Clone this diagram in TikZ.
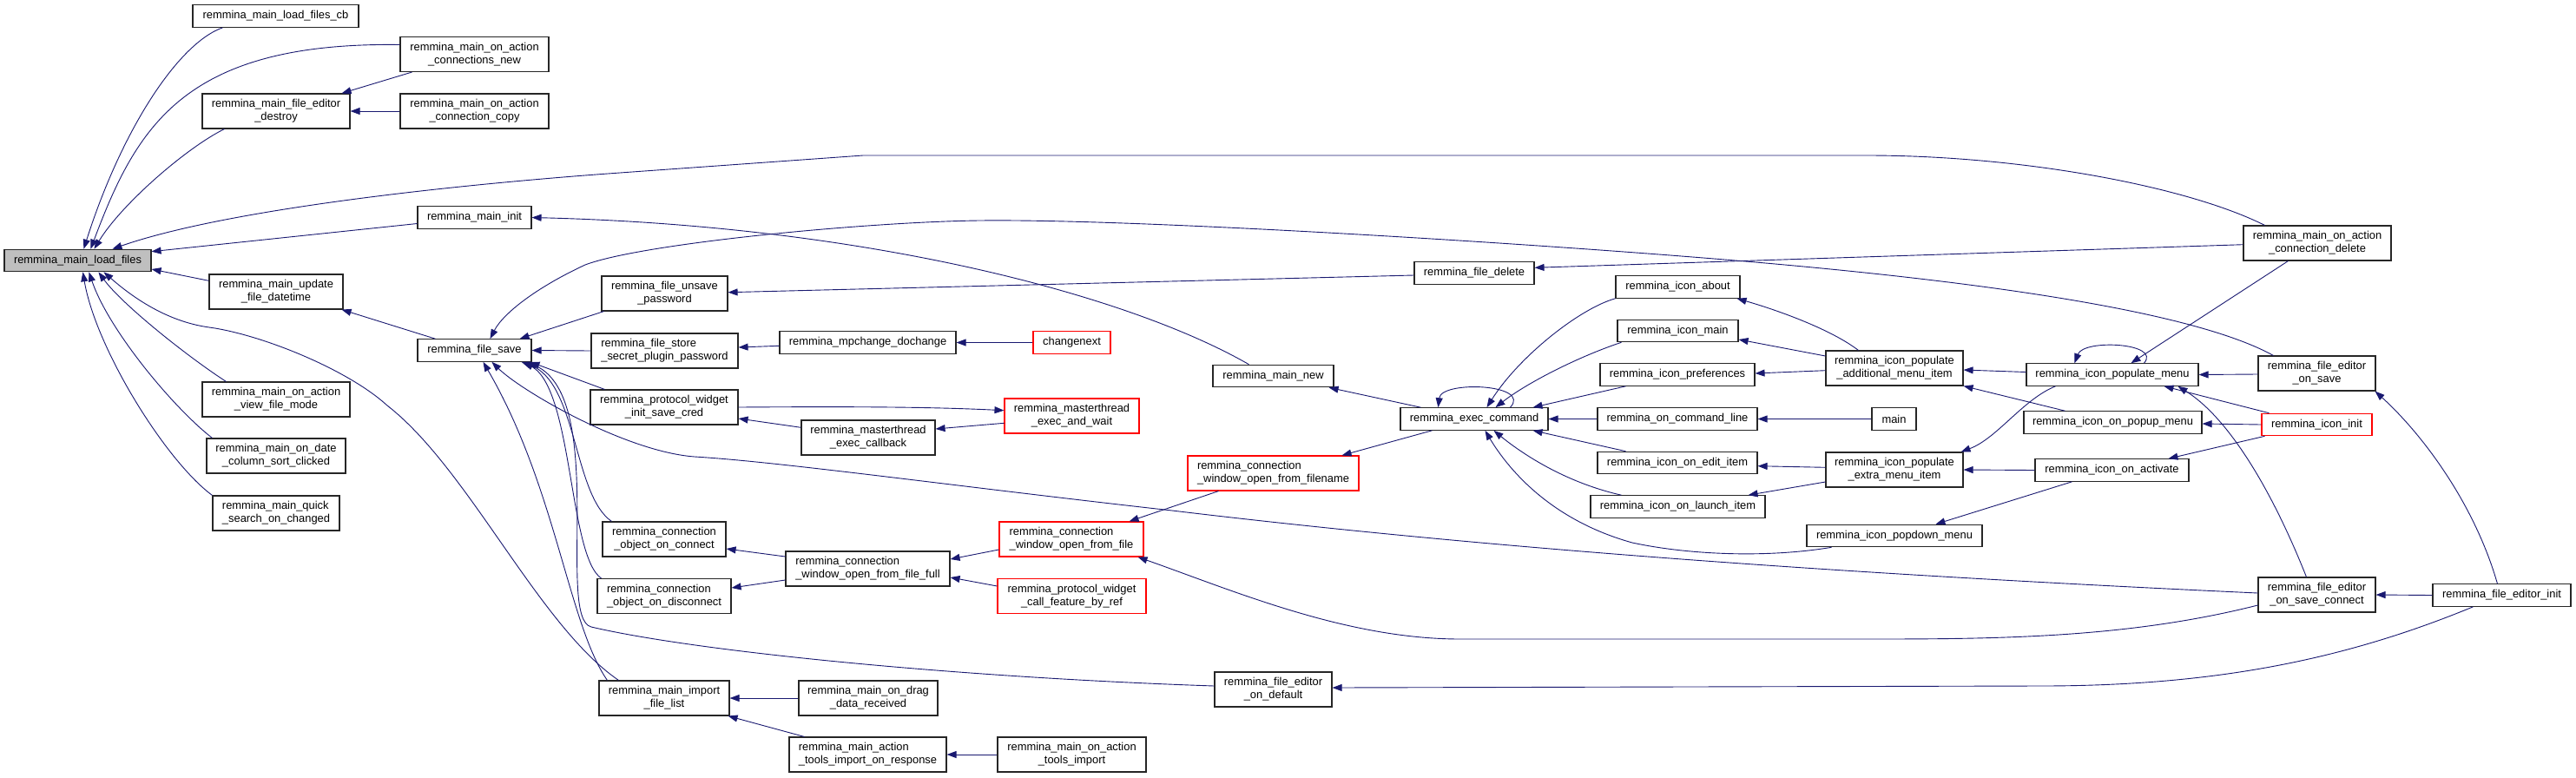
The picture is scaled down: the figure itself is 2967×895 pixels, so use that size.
\documentclass[tikz,border=0pt]{standalone}
\usepackage{fontspec}
\setmainfont{Liberation Sans}
\usetikzlibrary{arrows.meta}
\definecolor{ecol}{HTML}{191970}
\definecolor{rootfill}{HTML}{BFBFBF}
\newlength\dlw
\newlength\dlv
\newcommand{\dl}[2]{\settowidth{\dlw}{#2}\settowidth{\dlv}{#1}\ifdim\dlv<\dlw\makebox[\dlw][l]{#1}\else #1\fi\\#2}
\tikzset{
 box/.style={draw=black!85, line width=1.1pt, fill=white, inner sep=0pt, minimum height=25.5pt, align=center, font=\fontsize{12.9}{15}\selectfont},
 two/.style={minimum height=40pt},
 redbox/.style={draw=red},
 cedge/.style={draw=ecol, line width=0.9pt, -{Triangle[length=11pt,width=8pt]}},
}
\begin{document}
\begin{tikzpicture}[x=1pt,y=-1pt]
\useasboundingbox (0,0) rectangle (2967,895);
% nodes
\node[box,fill=rootfill,minimum width=169pt] (lf) at (89.5,300) {remmina\_main\_load\_files};
\node[box,minimum width=191pt] (cb) at (317.5,18.5) {remmina\_main\_load\_files\_cb};
\node[box,two,minimum width=171pt] (cn) at (546.5,62.5) {\dl{remmina\_main\_on\_action}{\_connections\_new}};
\node[box,two,minimum width=170pt] (fd) at (318,128) {\dl{remmina\_main\_file\_editor}{\_destroy}};
\node[box,two,minimum width=171pt] (cc) at (546.5,128) {\dl{remmina\_main\_on\_action}{\_connection\_copy}};
\node[box,minimum width=131pt] (mi) at (546.5,250.5) {remmina\_main\_init};
\node[box,two,minimum width=154pt] (ud) at (318,336) {\dl{remmina\_main\_update}{\_file\_datetime}};
\node[box,minimum width=131pt] (fs) at (546.5,403.5) {remmina\_file\_save};
\node[box,two,minimum width=170pt] (vf) at (318,460) {\dl{remmina\_main\_on\_action}{\_view\_file\_mode}};
\node[box,two,minimum width=160pt] (dc) at (318,525) {\dl{remmina\_main\_on\_date}{\_column\_sort\_clicked}};
\node[box,two,minimum width=146pt] (qs) at (318,591) {\dl{remmina\_main\_quick}{\_search\_on\_changed}};
\node[box,two,minimum width=145pt] (uf) at (765.5,338) {\dl{remmina\_file\_unsave}{\_password}};
\node[box,two,minimum width=169pt] (fss) at (765.5,404) {\dl{remmina\_file\_store}{\_secret\_plugin\_password}};
\node[box,minimum width=203pt] (mp) at (999.5,394.5) {remmina\_mpchange\_dochange};
\node[box,redbox,minimum width=89pt] (cx) at (1234.5,394.5) {changenext};
\node[box,two,minimum width=170pt] (isc) at (765,469) {\dl{remmina\_protocol\_widget}{\_init\_save\_cred}};
\node[box,two,minimum width=154pt] (ec) at (1000,504) {\dl{remmina\_masterthread}{\_exec\_callback}};
\node[box,two,redbox,minimum width=155pt] (eaw) at (1234.5,479) {\dl{remmina\_masterthread}{\_exec\_and\_wait}};
\node[box,two,minimum width=142pt] (oc) at (765,621) {\dl{remmina\_connection}{\_object\_on\_connect}};
\node[box,two,minimum width=154pt] (od) at (765,686.5) {\dl{remmina\_connection}{\_object\_on\_disconnect}};
\node[box,two,minimum width=189pt] (ff) at (999.5,655) {\dl{remmina\_connection}{\_window\_open\_from\_file\_full}};
\node[box,two,redbox,minimum width=166pt] (ofs) at (1234,621) {\dl{remmina\_connection}{\_window\_open\_from\_file}};
\node[box,two,redbox,minimum width=171pt] (cfr) at (1234.5,686.5) {\dl{remmina\_protocol\_widget}{\_call\_feature\_by\_ref}};
\node[box,two,minimum width=150pt] (ifl) at (765,804) {\dl{remmina\_main\_import}{\_file\_list}};
\node[box,two,minimum width=160pt] (dd) at (1000,804) {\dl{remmina\_main\_on\_drag}{\_data\_received}};
\node[box,two,minimum width=181pt] (rsp) at (999.5,869) {\dl{remmina\_main\_action}{\_tools\_import\_on\_response}};
\node[box,two,minimum width=171pt] (ti) at (1234.5,869) {\dl{remmina\_main\_on\_action}{\_tools\_import}};
\node[box,minimum width=138pt] (fdl) at (1698,314.5) {remmina\_file\_delete};
\node[box,minimum width=139pt] (mn) at (1466.5,433) {remmina\_main\_new};
\node[box,minimum width=170pt] (ex) at (1698,482.5) {remmina\_exec\_command};
\node[box,two,redbox,minimum width=197pt] (ofn) at (1466.5,545) {\dl{remmina\_connection}{\_window\_open\_from\_filename}};
\node[box,two,minimum width=135pt] (fdd) at (1466.5,794) {\dl{remmina\_file\_editor}{\_on\_default}};
\node[box,minimum width=143pt] (ia) at (1932.5,330.5) {remmina\_icon\_about};
\node[box,minimum width=139pt] (im) at (1932.5,381) {remmina\_icon\_main};
\node[box,minimum width=178pt] (ipr) at (1932,431.5) {remmina\_icon\_preferences};
\node[box,minimum width=184pt] (ocl) at (1932,482.5) {remmina\_on\_command\_line};
\node[box,minimum width=184pt] (oe) at (1932,533) {remmina\_icon\_on\_edit\_item};
\node[box,minimum width=201pt] (ol) at (1932.5,583.5) {remmina\_icon\_on\_launch\_item};
\node[box,two,minimum width=158pt] (add) at (2182,424) {\dl{remmina\_icon\_populate}{\_additional\_menu\_item}};
\node[box,minimum width=51pt] (mainn) at (2181.5,482.5) {main};
\node[box,two,minimum width=158pt] (ext) at (2182,541) {\dl{remmina\_icon\_populate}{\_extra\_menu\_item}};
\node[box,minimum width=202pt] (pd) at (2182,617) {remmina\_icon\_popdown\_menu};
\node[box,minimum width=198pt] (pm) at (2433,431.5) {remmina\_icon\_populate\_menu};
\node[box,minimum width=205pt] (pp) at (2433.5,486.5) {remmina\_icon\_on\_popup\_menu};
\node[box,minimum width=177pt] (oa) at (2432.5,541.5) {remmina\_icon\_on\_activate};
\node[box,two,minimum width=170pt] (cd) at (2669,280) {\dl{remmina\_main\_on\_action}{\_connection\_delete}};
\node[box,two,minimum width=135pt] (fos) at (2668.5,430) {\dl{remmina\_file\_editor}{\_on\_save}};
\node[box,redbox,minimum width=127pt] (ii) at (2668.5,489) {remmina\_icon\_init};
\node[box,two,minimum width=135pt] (sc) at (2668.5,685) {\dl{remmina\_file\_editor}{\_on\_save\_connect}};
\node[box,minimum width=159pt] (fei) at (2881.5,685.5) {remmina\_file\_editor\_init};
% edges into load_files
\draw[cedge] ([xshift=35]cb.south west) .. controls (205,50) and (140,150) .. ([xshift=92]lf.north west);
\draw[cedge] ([yshift=11]cn.west) .. controls (211,48) and (157,147) .. ([xshift=100]lf.north west);
\draw[cedge] ([xshift=26]fd.south west) .. controls (215,170) and (140,235) .. ([xshift=104]lf.north west);
\draw[cedge] ([xshift=25]cd.north west) .. controls (2520,215) and (2330,179) .. (2150,179) -- (994,179) -- (700,200) .. controls (550,211) and (270,238) .. ([xshift=125]lf.north west);
\draw[cedge] ([yshift=-7]mi.west) -- ([yshift=-3]lf.north east);
\draw[cedge] ([yshift=12.7]ud.west) -- ([yshift=-10]lf.east);
\draw[cedge] ([xshift=28]vf.north west) .. controls (215,410) and (140,350) .. ([xshift=109]lf.south west);
\draw[cedge] ([xshift=7]dc.north west) .. controls (200,470) and (125,380) .. ([xshift=98]lf.south west);
\draw[cedge] (qs.north west) .. controls (190,530) and (110,400) .. ([xshift=91]lf.south west);
\draw[cedge] ([xshift=23]ifl.north west) .. controls (620,720) and (540,540) .. (446,467) .. controls (400,425) and (300,385) .. (241,377) .. controls (190,370) and (150,340) .. ([xshift=115]lf.south west);
% left part
\draw[cedge] ([xshift=14]cn.south west) -- ([xshift=-10]fd.north east);
\draw[cedge] (cc.west) -- (fd.east);
\draw[cedge] ([xshift=42]mn.north west) .. controls (1300,340) and (1000,260) .. (mi.east);
\draw[cedge] ([xshift=21]fs.north west) -- ([xshift=-2]ud.south east);
\draw[cedge] ([xshift=3]uf.south west) -- ([xshift=-14]fs.north east);
\draw[cedge] ([yshift=-2.5]fdl.west) -- ([yshift=1.3]uf.east);
\draw[cedge] ([yshift=-1.7]cd.west) -- ([yshift=6.2]fdl.east);
\draw[cedge] ([xshift=18]fos.north west) .. controls (2520,355) and (2250,320) .. (1962,297) .. controls (1712,277) and (1300,252) .. (1128,254) .. controls (1000,255.5) and (740,280) .. (674,305) .. controls (620,330) and (580,360) .. ([xshift=84]fs.north west);
\draw[cedge] (fss.west) -- (fs.east);
\draw[cedge] ([yshift=-3.8]mp.west) -- ([yshift=4]fss.east);
\draw[cedge] (cx.west) -- (mp.east);
\draw[cedge] ([xshift=17]isc.north west) -- ([xshift=-2]fs.south east);
\draw[cedge] ([yshift=11.7]ec.west) -- ([yshift=-13]isc.east);
\draw[cedge] (isc.east) .. controls (1000,468) and (1080,469) .. ([yshift=6.3]eaw.west);
\draw[cedge] ([yshift=-8.3]eaw.west) -- ([yshift=10]ec.east);
\draw[cedge] ([xshift=11]oc.north west) .. controls (660,570) and (665,440) .. ([xshift=-12]fs.south east);
\draw[cedge] ([xshift=5]od.north west) .. controls (655,640) and (660,450) .. ([xshift=-9]fs.south east);
\draw[cedge] ([yshift=4]fdd.west) .. controls (1100,780) and (800,750) .. (681,722) .. controls (640,712) and (700,460) .. ([xshift=-5]fs.south east);
\draw[cedge] ([xshift=10]ifl.north west) .. controls (655,720) and (640,560) .. ([xshift=76]fs.south west);
\draw[cedge] ([yshift=2]sc.west) .. controls (2100,660) and (1700,630) .. (1350,588) .. controls (1100,560) and (900,532) .. (800,526) .. controls (720,520) and (600,450) .. ([xshift=86]fs.south west);
\draw[cedge] ([yshift=-12]sc.west) .. controls (2450,735) and (2300,736) .. (2150,736) -- (1682,736) .. controls (1550,736) and (1420,680) .. ([xshift=-7]ofs.south east);
\draw[cedge] ([xshift=47]fei.south west) .. controls (2700,760) and (2550,790) .. (2350,790) -- ([yshift=2]fdd.east);
\draw[cedge] ([xshift=75]fei.north west) .. controls (2850,580) and (2790,500) .. ([xshift=-1]fos.south east);
\draw[cedge] (fei.west) -- (sc.east);
% right part
\draw[cedge] ([yshift=-1]fos.west) -- (pm.east);
\draw[cedge] ([xshift=52]cd.south west) -- ([xshift=121]pm.north west);
\draw[cedge] ([xshift=136]pm.north west) .. controls (2490,395) and (2400,390) .. ([xshift=56]pm.north west);
\draw[cedge] ([yshift=3]pm.west) -- ([yshift=-2]add.east);
\draw[cedge] ([xshift=9]ii.north west) -- ([xshift=159]pm.south west);
\draw[cedge] ([xshift=56]sc.north west) .. controls (2615,560) and (2565,480) .. ([xshift=175]pm.south west);
\draw[cedge] (ii.west) -- ([yshift=-1.5]pp.east);
\draw[cedge] ([xshift=4]ii.south west) -- ([xshift=154]oa.north west);
\draw[cedge] ([xshift=48]pp.north west) -- (add.south east);
\draw[cedge] ([xshift=34]pm.south west) .. controls (2330,460) and (2300,505) .. ([xshift=-3]ext.north east);
\draw[cedge] (oa.west) -- (ext.east);
\draw[cedge] ([xshift=43]oa.south west) -- ([xshift=149]pd.north west);
\draw[cedge] ([xshift=38]add.north west) .. controls (2110,380) and (2050,358) .. ([xshift=-4]ia.south east);
\draw[cedge] ([yshift=14]add.west) -- ([yshift=-10]im.east);
\draw[cedge] ([yshift=-2.7]add.west) -- ([yshift=1.5]ipr.east);
\draw[cedge] ([yshift=2.7]ext.west) -- ([yshift=-3.7]oe.east);
\draw[cedge] ([yshift=-14]ext.west) -- ([xshift=-20]ol.north east);
\draw[cedge] (mainn.west) -- (ocl.east);
\draw[cedge] (ia.south west) .. controls (1820,355) and (1750,410) .. ([xshift=100]ex.north west);
\draw[cedge] ([xshift=5]im.south west) .. controls (1820,410) and (1760,440) .. ([xshift=110]ex.north west);
\draw[cedge] ([xshift=30]ipr.south west) -- ([xshift=-18]ex.north east);
\draw[cedge] (ocl.west) -- (ex.east);
\draw[cedge] ([xshift=33]oe.north west) -- ([xshift=-18]ex.south east);
\draw[cedge] ([xshift=36]ol.north west) .. controls (1800,555) and (1750,520) .. ([xshift=108]ex.south west);
\draw[cedge] ([xshift=29]pd.south west) .. controls (2040,642) and (1950,640) .. (1880,625) .. controls (1790,600) and (1740,545) .. ([xshift=98]ex.south west);
\draw[cedge] ([xshift=127]ex.north west) .. controls (1765,442) and (1660,438) .. ([xshift=44]ex.north west);
\draw[cedge] ([xshift=24]ex.north west) -- ([xshift=-6]mn.south east);
\draw[cedge] ([xshift=37]ex.south west) -- ([xshift=-20]ofn.north east);
\draw[cedge] ([xshift=36]ofn.south west) -- ([xshift=-17]ofs.north east);
\draw[cedge] ([yshift=-12]ofs.west) -- ([yshift=11]ff.east);
\draw[cedge] ([yshift=11.5]cfr.west) -- ([yshift=-10]ff.east);
\draw[cedge] ([yshift=14]ff.west) -- ([yshift=-11]oc.east);
\draw[cedge] ([yshift=-13]ff.west) -- ([yshift=9.5]od.east);
\draw[cedge] (dd.west) -- (ifl.east);
\draw[cedge] ([xshift=18]rsp.north west) -- ([xshift=-2]ifl.south east);
\draw[cedge] (ti.west) -- (rsp.east);
\end{tikzpicture}
\end{document}
